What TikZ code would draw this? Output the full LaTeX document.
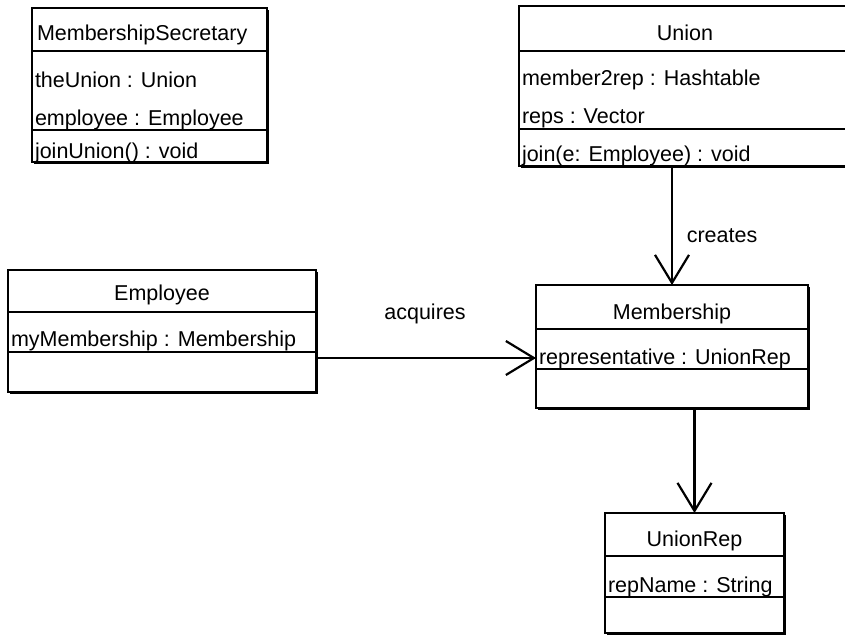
\documentclass[tikz,border=0pt]{standalone}
\usepackage{fontspec}
\setmainfont{Liberation Sans}
\usetikzlibrary{arrows.meta,shadows}

\tikzset{
  classbox/.style={draw, line width=2.1pt, fill=white, outer sep=0pt, inner sep=0pt,
    general shadow={fill=black, shadow xshift=1.6pt, shadow yshift=-1.6pt}},
  divider/.style={line width=1.9pt},
  txt/.style={inner sep=0pt, outer sep=0pt, anchor=base west,
    font=\fontsize{21.5}{24}\selectfont},
  ttl/.style={txt, anchor=base},
  assoc/.style={line width=2.2pt,
    -{Straight Barb[length=28pt,width=34pt,line width=2.2pt]}},
}

\begin{document}
\begin{tikzpicture}[x=1pt,y=-1pt]
\useasboundingbox (0,0) rectangle (845,637);
\clip (0,0) rectangle (845,637);

% MembershipSecretary
\node[classbox, minimum width=235pt, minimum height=154pt] (sec) at (149.5,85) {};
\draw[divider] (sec.west |- 0,51) -- (sec.east |- 0,51);
\draw[divider] (sec.west |- 0,130) -- (sec.east |- 0,130);
\node[txt] (secT) at (37,40) {MembershipSecretary};
\node[txt] (secA1) at (35,87) {theUnion : Union};
\node[txt] (secA2) at (35,125) {employee : Employee};
\node[txt] (secO1) at (35,158) {joinUnion() : void};

% Union
\node[classbox, minimum width=332pt, minimum height=160pt] (union) at (685,86) {};
\draw[divider] (union.west |- 0,51) -- (union.east |- 0,51);
\draw[divider] (union.west |- 0,129) -- (union.east |- 0,129);
\node[ttl] (unionT) at (685,40) {Union};
\node[txt] (unionA1) at (522,85) {member2rep : Hashtable};
\node[txt] (unionA2) at (522,123) {reps : Vector};
\node[txt] (unionO1) at (522,161) {join(e: Employee) : void};

% Employee
\node[classbox, minimum width=308pt, minimum height=122pt] (emp) at (162,331) {};
\draw[divider] (emp.west |- 0,312) -- (emp.east |- 0,312);
\draw[divider] (emp.west |- 0,352) -- (emp.east |- 0,352);
\node[ttl] (empT) at (162,300) {Employee};
\node[txt] (empA1) at (11,346) {myMembership : Membership};

% Membership
\node[classbox, minimum width=272pt, minimum height=123pt] (mem) at (672,346.5) {};
\draw[divider] (mem.west |- 0,329) -- (mem.east |- 0,329);
\draw[divider] (mem.west |- 0,369) -- (mem.east |- 0,369);
\node[ttl] (memT) at (672,319) {Membership};
\node[txt] (memA1) at (539,364) {representative : UnionRep};

% UnionRep
\node[classbox, minimum width=179pt, minimum height=120pt] (rep) at (694.5,573) {};
\draw[divider] (rep.west |- 0,556) -- (rep.east |- 0,556);
\draw[divider] (rep.west |- 0,597) -- (rep.east |- 0,597);
\node[ttl] (repT) at (694.5,546) {UnionRep};
\node[txt] (repA1) at (608,592) {repName : String};

% associations
\coordinate (acqY) at (0,358);
\draw[assoc] (union.south -| mem.north) -- (mem.north);
\draw[assoc] (emp.east |- acqY) -- (mem.west |- acqY);
\draw[assoc] (mem.south -| rep.north) -- (rep.north);

\node[ttl] (creates) at (722,242) {creates};
\node[ttl] (acquires) at (425,319) {acquires};
\end{tikzpicture}
\end{document}
